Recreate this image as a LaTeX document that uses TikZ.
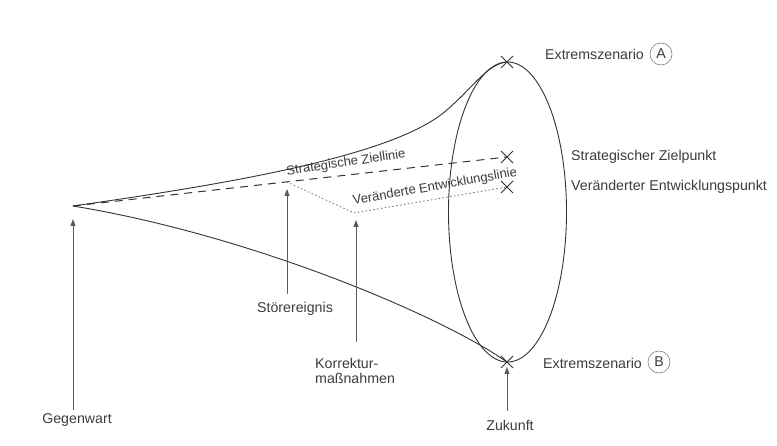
\documentclass[tikz,border=0pt]{standalone}
\usepackage{fontspec}
\setmainfont{Liberation Sans}
\usetikzlibrary{arrows.meta}
\definecolor{ink}{HTML}{333333}
\definecolor{txt}{HTML}{3C3C3C}
\definecolor{arr}{HTML}{5A5A5A}
\begin{document}
\begin{tikzpicture}[x=1pt,y=-1pt,
  lbl/.style={text=txt,font=\fontsize{14.2}{16}\selectfont,inner sep=1pt},
  rlbl/.style={text=txt,font=\fontsize{13}{15}\selectfont,inner sep=1pt},
  curve/.style={draw=ink,line width=0.9pt},
  pointer/.style={draw=arr,line width=0.8pt,-{Triangle[length=7pt,width=5pt]}},
  cross/.style={draw=ink,line width=0.9pt},
  circ/.style={circle,draw=gray,line width=0.6pt,minimum size=22pt,inner sep=0pt,text=txt,font=\fontsize{14.2}{16}\selectfont},
  ziel/.style={draw=ink,line width=1pt,dash pattern=on 8pt off 6pt},
  entw/.style={draw=gray,line width=1pt,dash pattern=on 0.9pt off 3pt,line cap=round}]
\fill[white] (0,0) rectangle (777,446);
\useasboundingbox (0,0) rectangle (777,446);
% key points
\coordinate (apex) at (73,206);
\coordinate (topA) at (507,62);
\coordinate (botB) at (507,362);
\coordinate (zp) at (507,157);
\coordinate (ep) at (507,187);
\coordinate (stoer) at (287,182);
\coordinate (korr) at (354,213);
% funnel
\draw[curve] (apex) .. controls (220,185) and (385,158) .. (442,114)
  .. controls (472,90) and (486,64) .. (topA);
\draw[curve] (apex) .. controls (250,235) and (440,315) .. (botB);
\draw[curve] (507.5,212) ellipse [x radius=59, y radius=150];
% lines
\draw[ziel] (apex) -- (zp);
\draw[entw] (stoer) -- (korr) -- (ep);
% crosses
\foreach \p in {topA,botB,zp,ep}
  \draw[cross] ([shift={(-6,-6)}]\p) -- ([shift={(6,6)}]\p)
               ([shift={(-6,6)}]\p) -- ([shift={(6,-6)}]\p);
% rotated labels
\node[rlbl,rotate=8.4] (zl) at (346,163) {Strategische Ziellinie};
\node[rlbl,rotate=10] (el) at (435,187) {Veränderte Entwicklungslinie};
% right labels
\node[lbl,anchor=west] (exA) at (544,54) {Extremszenario};
\node[circ] (cA) at (661,54) {A};
\node[lbl,anchor=west] (zpt) at (570,157) {Strategischer Zielpunkt};
\node[lbl,anchor=west] (ept) at (570,187) {Veränderter Entwicklungspunkt};
\node[lbl,anchor=west] (exB) at (542,363) {Extremszenario};
\node[circ] (cB) at (659,362) {B};
% bottom labels
\node[lbl] (gegen) at (77,420) {Gegenwart};
\node[lbl] (stl) at (295,309) {Störereignis};
\node[lbl,align=left,anchor=north west] (kl) at (314,357) {Korrektur-\\[-1pt]maßnahmen};
\node[lbl] (zuk) at (510,425) {Zukunft};
% pointers
\coordinate (g0) at (73,410); \coordinate (g1) at (73,219);
\coordinate (s0) at (287,294); \coordinate (s1) at (287,189);
\coordinate (k0) at (356,342); \coordinate (k1) at (356,220);
\coordinate (z0) at (507,411); \coordinate (z1) at (507,367);
\draw[pointer] (g0) -- (g1);
\draw[pointer] (s0) -- (s1);
\draw[pointer] (k0) -- (k1);
\draw[pointer] (z0) -- (z1);
\end{tikzpicture}
\end{document}
